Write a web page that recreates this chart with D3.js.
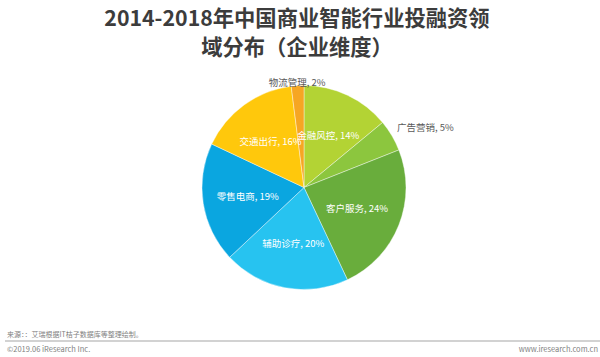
<!DOCTYPE html>
<html><head><meta charset="utf-8">
<script src="https://cdn.jsdelivr.net/npm/d3@7"></script>
<style>body{margin:0;background:#fff}svg{display:block}</style>
</head><body>
<script>
const categories = ["金融风控","广告营销","客户服务","辅助诊疗","零售电商","交通出行","物流管理"];
const values = [14,5,24,20,19,16,2];
const colors = ["#b3d334","#8cc63e","#69ad3c","#27c3f0","#0aa6e0","#ffc80c","#f6a623"];
const outside = [false,true,false,false,false,false,true];
const titleLines = ["2014-2018年中国商业智能行业投融资领","域分布（企业维度）"];
const source = "来源：：艾瑞根据IT桔子数据库等整理绘制。";
const copyright = "©2019.06 iResearch Inc.";
const site = "www.iresearch.com.cn";

const W=600,H=357;
const svg=d3.select("body").append("svg").attr("width",W).attr("height",H);
const font="'Noto Sans CJK SC','Noto Sans',sans-serif";

svg.selectAll("text.title").data(titleLines).join("text")
  .attr("x",297).attr("y",(d,i)=>26+i*29)
  .attr("text-anchor","middle").attr("font-family",font).attr("font-weight","bold")
  .attr("font-size",21.3).attr("fill","#3c3c3c").text(d=>d);

const cx=304,cy=187.5,R=102;
const data=categories.map((c,i)=>({c,v:values[i],col:colors[i],out:outside[i]}));
const pie=d3.pie().value(d=>d.v).sort(null);
const arcs=pie(data);
const arc=d3.arc().innerRadius(0).outerRadius(R);
const g=svg.append("g").attr("transform",`translate(${cx},${cy})`);
g.selectAll("path").data(arcs).join("path").attr("d",arc)
  .attr("fill",d=>d.data.col).attr("stroke","#fff").attr("stroke-width",0.4);

const inArc=d3.arc().innerRadius(114).outerRadius(0);
g.selectAll("text.lab").data(arcs).join("text")
  .each(function(d){
    const t=d3.select(this);
    const a=(d.startAngle+d.endAngle)/2;
    let x,y,anchor;
    if(d.data.out){
      const r=R+6;
      x=r*Math.sin(a); y=-r*Math.cos(a);
      if(Math.abs(Math.sin(a))<0.3){anchor="middle"; y+=3;}
      else {anchor=Math.sin(a)>0?"start":"end"; y-=5;}
    } else {
      [x,y]=inArc.centroid(d);
      anchor="middle";
    }
    t.attr("x",x).attr("y",y).attr("text-anchor",anchor).attr("dy","0.35em");
  })
  .attr("font-family",font).attr("font-size",9.5)
  .attr("fill",d=>d.data.out?"#595959":"#ffffff")
  .text(d=>`${d.data.c}, ${d.data.v}%`);

svg.append("text").attr("x",7).attr("y",337).attr("font-family",font)
  .attr("font-size",7).attr("fill","#7f7f7f").text(source);
svg.append("line").attr("x1",5).attr("x2",600).attr("y1",341).attr("y2",341)
  .attr("stroke","#a6a6a6").attr("stroke-width",1.2);
svg.append("text").attr("x",7).attr("y",352).attr("font-family",font)
  .attr("font-size",7.5).attr("fill","#7f7f7f").text(copyright);
svg.append("text").attr("x",598).attr("y",352).attr("text-anchor","end").attr("font-family",font)
  .attr("font-size",7.5).attr("fill","#7f7f7f").text(site);
</script>
</body></html>
